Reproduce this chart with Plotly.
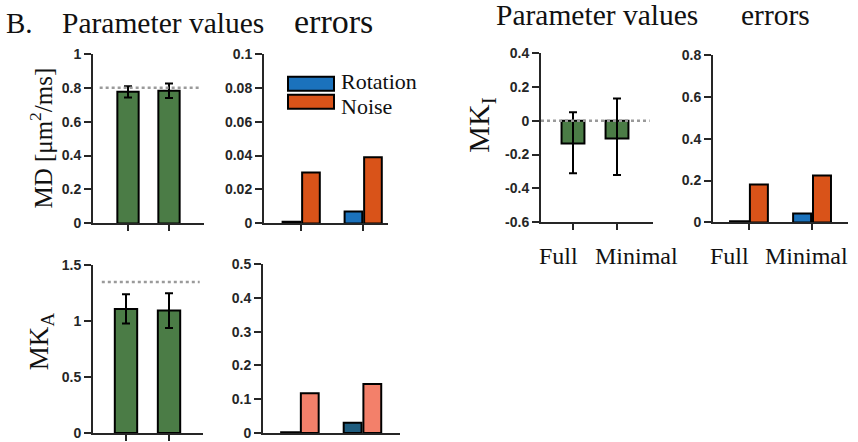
import plotly.graph_objects as go

# ---------------- data ----------------
methods = ["Full", "Minimal"]

md_mean = [0.776, 0.782]
md_err = [0.033, 0.043]
md_true = 0.8

mka_mean = [1.11, 1.095]
mka_err = [0.13, 0.155]
mka_true = 1.35

mki_mean = [-0.135, -0.105]
mki_err_plus = [0.185, 0.235]
mki_err_minus = [0.175, 0.215]
mki_true = 0.0

md_rot = [0.001, 0.007]
md_noise = [0.030, 0.039]
mki_rot = [0.005, 0.043]
mki_noise = [0.181, 0.224]
mka_rot = [0.002, 0.030]
mka_noise = [0.118, 0.145]

md_ticks = [0, 0.2, 0.4, 0.6, 0.8, 1]
md_ticktext = ["0", "0.2", "0.4", "0.6", "0.8", "1"]
mderr_ticks = [0, 0.02, 0.04, 0.06, 0.08, 0.1]
mderr_ticktext = ["0", "0.02", "0.04", "0.06", "0.08", "0.1"]
mki_ticks = [-0.6, -0.4, -0.2, 0, 0.2, 0.4]
mki_ticktext = ["-0.6", "-0.4", "-0.2", "0", "0.2", "0.4"]
mkierr_ticks = [0, 0.2, 0.4, 0.6, 0.8]
mkierr_ticktext = ["0", "0.2", "0.4", "0.6", "0.8"]
mka_ticks = [0, 0.5, 1, 1.5]
mka_ticktext = ["0", "0.5", "1", "1.5"]
mkaerr_ticks = [0, 0.1, 0.2, 0.3, 0.4, 0.5]
mkaerr_ticktext = ["0", "0.1", "0.2", "0.3", "0.4", "0.5"]

# ---------------- style ----------------
W, H = 858, 442
# measured page compensation (screen_y = Y_OFF + Y_SCALE * layout_y)
Y_OFF, Y_SCALE = 7.1, 0.966
GREEN = "#4B7C46"
BLUE = "#1B72BC"
ORANGE = "#D95319"
TEAL = "#1E5C7E"
SALMON = "#F3806A"
DOT = "#9A9A9A"
AX = "#262626"
SERIF = "Liberation Serif, Times New Roman, serif"
SANS = "Liberation Sans, Arial, sans-serif"


def px(x):
    return x / W


def py(y):
    return 1 - ((y - Y_OFF) / Y_SCALE) / H


fig = go.Figure()

# panel geometry in target pixels: (x0, x1, ytop, ybottom, xrange, yrange, ticks, ticktext, x ticks)
panels = {
    1: (93, 204, 53, 223, [-0.854, 1.854], [0, 1], md_ticks, md_ticktext, True),
    2: (264, 388, 53, 223, [-0.60, 1.40], [0, 0.1], mderr_ticks, mderr_ticktext, True),
    3: (541, 653, 52, 222, [-0.727, 1.818], [-0.6, 0.4], mki_ticks, mki_ticktext, True),
    4: (713, 848, 54, 222, [-0.57, 1.57], [0, 0.8], mkierr_ticks, mkierr_ticktext, True),
    5: (93, 203, 265, 433, [-0.767, 1.79], [0, 1.5], mka_ticks, mka_ticktext, True),
    6: (263, 400, 264, 433, [-0.59, 1.60], [0, 0.5], mkaerr_ticks, mkaerr_ticktext, False),
}

layout_axes = {}
for i, (x0, x1, yt, yb, xr, yr, tv, tt, xt) in panels.items():
    sx = "" if i == 1 else str(i)
    layout_axes["xaxis" + sx] = dict(
        domain=[px(x0), px(x1)], anchor="y" + sx, type="category",
        range=xr, showgrid=False, zeroline=False, showline=True,
        linewidth=2, linecolor=AX, showticklabels=False,
        ticks="outside" if xt else "", ticklen=6, tickwidth=2, tickcolor=AX,
        fixedrange=True,
    )
    layout_axes["yaxis" + sx] = dict(
        domain=[max(0, py(yb)), py(yt)], anchor="x" + sx, range=yr,
        showgrid=False, zeroline=False, showline=True, linewidth=2,
        linecolor=AX, ticks="outside", ticklen=7, tickwidth=2, tickcolor=AX,
        tickvals=tv, ticktext=tt,
        tickfont=dict(family=SANS, size=14, color=AX, weight="bold"),
        fixedrange=True,
    )


def green_bars(ax, mean, plus, minus=None):
    err = dict(type="data", array=plus, color="black", thickness=2, width=4)
    if minus is not None:
        err["symmetric"] = False
        err["arrayminus"] = minus
    fig.add_trace(go.Bar(
        x=methods, y=mean, width=0.52, marker=dict(color=GREEN, line=dict(color="black", width=2)),
        error_y=err, xaxis="x" + ax, yaxis="y" + ax, showlegend=False,
    ))


def err_bars(ax, rot, noise, c_rot, c_noise):
    fig.add_trace(go.Bar(
        x=methods, y=rot, name="Rotation", width=0.285, offset=-0.30,
        marker=dict(color=c_rot, line=dict(color="black", width=2)),
        xaxis="x" + ax, yaxis="y" + ax, showlegend=False,
    ))
    fig.add_trace(go.Bar(
        x=methods, y=noise, name="Noise", width=0.285, offset=0.015,
        marker=dict(color=c_noise, line=dict(color="black", width=2)),
        xaxis="x" + ax, yaxis="y" + ax, showlegend=False,
    ))


green_bars("", md_mean, md_err)
err_bars("2", md_rot, md_noise, BLUE, ORANGE)
green_bars("3", mki_mean, mki_err_plus, mki_err_minus)
err_bars("4", mki_rot, mki_noise, BLUE, ORANGE)
green_bars("5", mka_mean, mka_err)
err_bars("6", mka_rot, mka_noise, TEAL, SALMON)

shapes = []
for ax, val, xs in (("", md_true, (0.06, 0.97)), ("3", mki_true, (0.0, 0.97)), ("5", mka_true, (0.08, 0.97))):
    xref = ("x" + ax if ax else "x") + " domain"
    shapes.append(dict(type="line", xref=xref, yref="y" + ax if ax else "y",
                       x0=xs[0], x1=xs[1], y0=val, y1=val,
                       line=dict(color=DOT, width=2.5, dash="dot"), layer="above"))

# legend boxes (panel 2)
for (y0, y1, col) in ((76, 90, BLUE), (94, 108, ORANGE)):
    shapes.append(dict(type="rect", xref="paper", yref="paper",
                       x0=px(288), x1=px(334), y0=py(y1), y1=py(y0),
                       fillcolor=col, line=dict(color="black", width=2)))

ann = []


def text(x, y, s, size, xanchor="left", angle=0):
    ann.append(dict(x=px(x), y=py(y), xref="paper", yref="paper", text=s,
                    showarrow=False, xanchor=xanchor, yanchor="middle",
                    textangle=angle, borderpad=0,
                    font=dict(family=SERIF, size=size, color="#111")))


text(5, 22.5, "B.", 29)
text(61, 22.5, "Parameter values", 29.5)
text(333, 21, "errors", 34, xanchor="center")
text(495, 14.5, "Parameter values", 29.5)
text(740, 14.5, "errors", 29.5)

text(340, 80.5, "Rotation", 22)
text(340, 105.5, "Noise", 22)

text(41, 138, "MD [μm<sup>2</sup>/ms]", 25, xanchor="center", angle=-90)
text(41, 341, "MK<sub>A</sub>", 27, xanchor="center", angle=-90)
text(481, 124, "MK<sub>I</sub>", 30, xanchor="center", angle=-90)

text(558, 255.5, methods[0], 24, xanchor="center")
text(636, 255.5, methods[1], 24, xanchor="center")
text(729, 255.5, methods[0], 24, xanchor="center")
text(806, 255.5, methods[1], 24, xanchor="center")

fig.update_layout(
    width=W, height=H, autosize=False,
    margin=dict(l=0, r=0, t=0, b=0, pad=0),
    paper_bgcolor="white", plot_bgcolor="white",
    barmode="overlay", showlegend=False,
    shapes=shapes, annotations=ann,
    **layout_axes,
)

fig.write_html(
    "out.html",
    config={"displayModeBar": False},
    post_script="document.documentElement.style.margin='0';document.body.style.margin='0';"
                "document.body.style.padding='0';document.documentElement.style.overflow='hidden';",
)
